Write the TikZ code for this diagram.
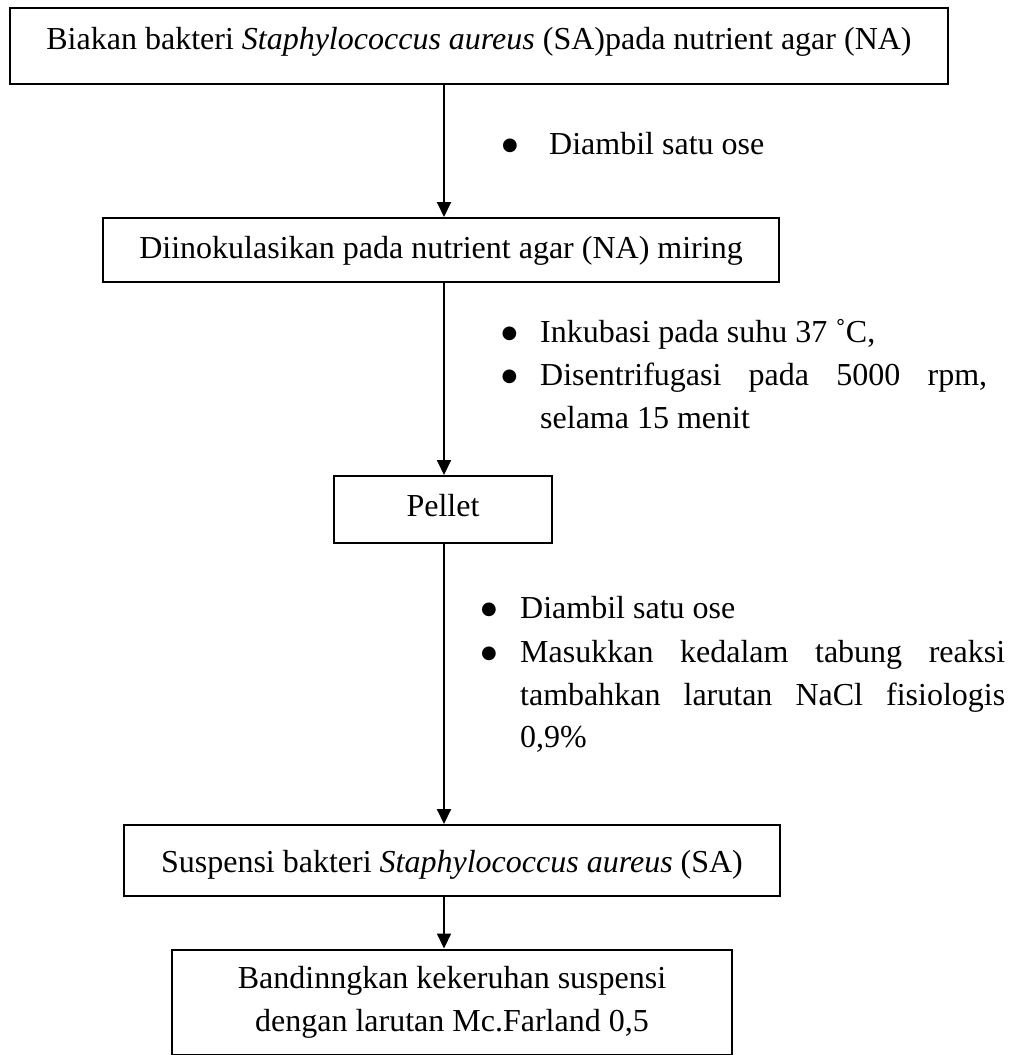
\documentclass[tikz,border=0pt]{standalone}
\usepackage{fontspec}
\setmainfont{Liberation Serif}
\newfontfamily\symfont{DejaVu Sans}
\usetikzlibrary{arrows.meta}
\newcommand{\bigbullet}{\raisebox{4pt}{\symfont\fontsize{18}{20}\selectfont ●}}
\begin{document}
\begin{tikzpicture}[x=1pt,y=-1pt,
  txt/.style={font=\fontsize{32}{43}\selectfont},
  box/.style={txt,draw,line width=2pt,inner sep=0pt,align=center},
  flow/.style={line width=2pt,-{Triangle[width=14pt,length=15pt]}},
  note/.style={txt,inner sep=0pt,anchor=base west},
  dot/.style={inner sep=0pt,anchor=base}]

\useasboundingbox (0,0) rectangle (1014,1055);

% process boxes
\node[box,minimum width=938pt,text height=41pt,text depth=35pt,anchor=base] (b1) at (479,49)
  {Biakan bakteri \textit{Staphylococcus aureus} (SA)pada nutrient agar (NA)};
\node[box,minimum width=676pt,text height=40pt,text depth=24pt,anchor=base] (b2) at (441,258)
  {Diinokulasikan pada nutrient agar (NA) miring};
\node[box,minimum width=218pt,text height=40pt,text depth=27pt,anchor=base] (b3) at (443,516)
  {Pellet};
\node[box,minimum width=656pt,text height=47pt,text depth=24pt,anchor=base] (b4) at (452,872)
  {Suspensi bakteri \textit{Staphylococcus aureus} (SA)};
\node[box,minimum width=560pt,minimum height=105pt] (b5) at (452,1002)
  {Bandinngkan kekeruhan suspensi\\dengan larutan Mc.Farland 0,5};

% vertical flow line
\coordinate (ax) at (444,0);
\draw[flow] (b1.south -| ax) -- (b2.north -| ax);
\draw[flow] (b2.south -| ax) -- (b3.north -| ax);
\draw[flow] (b3.south -| ax) -- (b4.north -| ax);
\draw[flow] (b4.south -| ax) -- (b5.north -| ax);

% step notes
\node[dot] (d1) at (510,154) {\bigbullet};
\node[note] (n1) at (549,154) {Diambil satu ose};

\node[dot] (d2) at (509.5,342) {\bigbullet};
\node[note] (n2) at (540,342) {Inkubasi pada suhu 37 ˚C,};
\node[dot] (d3) at (509.5,385) {\bigbullet};
\node[note] (n3) at (540,385) {\makebox[447pt][l]{Disentrifugasi\hfill pada\hfill 5000\hfill rpm,}};
\node[note] (n4) at (540,428) {selama 15 menit};

\node[dot] (d4) at (489,618) {\bigbullet};
\node[note] (n5) at (520,618) {Diambil satu ose};
\node[dot] (d5) at (489,662) {\bigbullet};
\node[note] (n6) at (520,662) {\makebox[485pt][l]{Masukkan\hfill kedalam\hfill tabung\hfill reaksi}};
\node[note] (n7) at (520,705) {\makebox[485pt][l]{tambahkan\hfill larutan\hfill NaCl\hfill fisiologis}};
\node[note] (n8) at (520,747) {0,9\%};
\end{tikzpicture}
\end{document}
